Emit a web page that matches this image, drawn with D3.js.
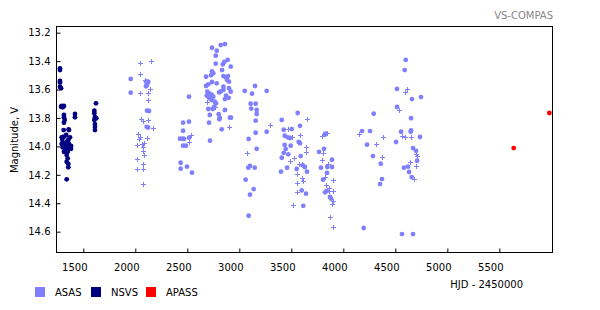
<!DOCTYPE html>
<html><head><meta charset="utf-8">
<script src="https://cdn.jsdelivr.net/npm/d3@7"></script>
<style>
body{margin:0;background:#fff;}
text{font-family:"DejaVu Sans",Verdana,sans-serif;font-size:10px;}
</style></head>
<body><svg id="c" width="600" height="310"></svg>
<script>
// ---- data ----
const xTicks = [1500,2000,2500,3000,3500,4000,4500,5000,5500];
const yTicks = [13.2,13.4,13.6,13.8,14.0,14.2,14.4,14.6];
const seriesNames = ["ASAS","NSVS","APASS"];
const seriesColors = ["#8080ff","#000080","#ff0000"];

// ASAS good-quality points [HJD-2450000, V]
const asasDots = [
[1956,13.526],[1956,13.622],[2103,13.545],[2115,13.545],[2125,13.547],[2103,13.577],[2113,13.568],
[2113,13.749],[2132,13.751],[2109,13.862],[2122,13.867],
[2516,13.650],[2459,13.833],[2516,13.826],[2459,13.890],[2430,13.946],[2456,13.946],[2468,13.948],
[2516,13.939],[2459,13.995],[2487,13.995],[2436,14.115],[2436,14.157],[2497,14.143],[2545,14.185],
[2737,13.306],[2821,13.287],[2862,13.280],[2783,13.327],[2773,13.362],[2773,13.418],[2841,13.423],
[2856,13.406],[2888,13.392],[2917,13.439],[2834,13.463],[2737,13.472],[2750,13.486],[2728,13.500],
[2680,13.510],[2847,13.505],[2869,13.514],[2891,13.505],[2882,13.533],[2901,13.545],[2783,13.556],
[2737,13.547],[2702,13.563],[2680,13.575],[2847,13.580],[2901,13.591],[2917,13.615],[2847,13.603],
[2821,13.613],[2805,13.620],[2692,13.615],[2712,13.627],[2734,13.636],[2687,13.643],[2750,13.650],
[2712,13.662],[2734,13.674],[2872,13.643],[2898,13.658],[2862,13.667],[2764,13.686],[2776,13.697],
[2702,13.737],[2744,13.737],[2760,13.721],[2862,13.744],[2802,13.774],[2812,13.798],[2808,13.809],
[2716,13.779],[2910,13.798],[2920,13.798],[2709,13.833],[2831,13.880],[2718,13.960],
[3052,13.610],[3151,13.575],[3122,13.629],[3263,13.610],[3109,13.700],[3157,13.700],[3115,13.734],
[3167,13.744],[3167,13.772],[3157,13.819],[3263,13.897],[3157,13.904],[3090,13.948],[3167,14.017],
[3086,14.150],[3103,14.138],[3148,14.150],[3061,14.234],[3138,14.300],[3103,14.340],[3090,14.488],
[3561,13.765],[3408,13.814],[3583,13.855],[3427,13.883],[3504,13.878],[3436,13.925],[3465,13.936],
[3487,13.941],[3571,13.969],[3583,13.978],[3436,13.990],[3446,14.019],[3494,13.995],[3471,14.056],
[3427,14.045],[3590,14.068],[3408,14.080],[3609,14.133],[3631,14.145],[3459,14.150],[3552,14.159],
[3401,14.178],[3651,14.178],[3600,14.309],[3641,14.333],[3615,14.418],
[3827,13.911],[3821,13.918],[3766,14.038],[3814,14.017],[3891,14.094],[3891,14.145],[3846,14.145],
[3785,14.150],[3843,14.187],[3805,14.234],[3824,14.323],[3840,14.314],[3872,14.356],[3882,14.368],
[4292,13.770],[4180,13.892],[4257,13.892],[4228,13.988],[4285,14.068],[4360,14.122],[4372,14.230],
[4353,14.265],[4196,14.574],
[4600,13.392],[4590,13.463],[4516,13.596],[4747,13.653],[4660,13.667],[4516,13.723],[4651,13.802],
[4555,13.897],[4648,13.897],[4651,13.888],[4737,13.934],[4507,13.969],[4670,14.012],[4699,14.031],
[4709,14.101],[4583,14.150],[4622,14.143],[4632,14.180],[4657,14.216],[4564,14.617],[4670,14.617]
];
// ASAS lower-quality points
const asasPlus = [
[2048,13.416],[2154,13.401],[2048,13.491],[2093,13.533],[2141,13.598],[2125,13.622],[2048,13.622],
[2125,13.674],[2059,13.810],[2071,13.819],[2125,13.817],[2173,13.873],[2029,13.915],[2045,13.932],
[2038,13.948],[2115,13.943],[2019,13.992],[2061,13.983],[2077,14.002],[2084,13.978],[2077,14.035],
[2086,14.063],[2019,14.091],[2077,14.126],[2019,14.161],[2077,14.161],[2077,14.267],
[2535,13.922],[2519,13.969],
[2692,13.690],[2769,13.721],[2904,13.862],
[3298,13.852],[3077,14.049],
[3654,13.805],[3465,13.880],[3583,13.918],[3509,13.936],[3638,14.007],[3644,14.042],[3529,14.084],
[3490,14.105],[3577,14.126],[3603,14.126],[3552,14.192],[3600,14.223],[3615,14.246],[3558,14.260],
[3558,14.323],[3519,14.415],
[3846,13.908],[3798,13.929],[3808,14.049],[3798,14.096],[3856,14.126],[3824,14.213],[3837,14.274],
[3904,14.239],[3862,14.295],[3865,14.314],[3904,14.316],[3904,14.382],[3888,14.406],[3875,14.499],
[3904,14.570],
[4154,13.915],[4385,13.934],[4317,13.985],[4375,14.077],
[4615,13.598],[4596,13.620],[4533,13.746],[4561,13.929],[4596,13.936],[4654,13.936],[4696,14.056],
[4706,14.070],[4644,14.112],[4702,14.140],[4683,14.232]
];
const nsvs = [
[1276,13.451],[1276,13.463],[1276,13.540],[1276,13.550],[1276,13.580],[1286,13.591],
[1286,13.721],[1302,13.725],[1314,13.716],[1292,13.716],[1314,13.779],[1314,13.795],[1321,13.814],
[1314,13.833],[1311,13.885],[1359,13.880],[1362,13.885],[1292,13.936],[1314,13.932],[1336,13.920],
[1356,13.955],[1372,13.936],[1292,13.983],[1314,13.978],[1336,13.990],[1362,13.983],[1382,13.997],
[1302,14.007],[1327,14.014],[1356,14.014],[1382,14.017],[1314,14.038],[1350,14.038],[1340,14.061],
[1350,14.084],[1340,14.108],[1356,14.124],[1356,14.147],[1340,14.232],[1298,13.955],[1345,13.965],
[1420,13.772],[1420,13.795],
[1622,13.697],[1606,13.749],[1606,13.767],[1612,13.795],[1625,13.802],[1606,13.814],[1612,13.843],
[1612,13.862],[1612,13.885]
];
const apass = [[5638,14.012],[5981,13.765]];

// ---- chart ----
const svg = d3.select("#c");
svg.append("rect").attr("width",600).attr("height",310).attr("fill","#fff");
const L=56, R=553, T=26, B=252;
const x = d3.scaleLinear().domain([1237.5,6016]).range([L,R]);
const y = d3.scaleLinear().domain([13.153,14.743]).range([T,B]);

// axes
const xAxis = d3.axisBottom(x).tickValues(xTicks).tickSizeInner(-4).tickSizeOuter(0).tickPadding(11.5).tickFormat(d3.format("d"));
const gx = svg.append("g").attr("transform",`translate(0,${B+0.5})`).call(xAxis);
gx.select(".domain").remove();
gx.selectAll(".tick text").attr("dx",-9).attr("fill","#000").style("font-size","10px");
gx.selectAll(".tick line").attr("stroke","#000");

const yAxis = d3.axisLeft(y).tickValues(yTicks).tickSizeInner(-4).tickSizeOuter(0).tickPadding(6).tickFormat(d3.format(".1f"));
const gy = svg.append("g").attr("transform",`translate(${L+0.5},0)`).call(yAxis);
gy.select(".domain").remove();
gy.selectAll(".tick text").attr("fill","#000").style("font-size","10px");
gy.selectAll(".tick line").attr("stroke","#000");
svg.selectAll(".tick text").attr("font-family",null);

// frame
svg.append("rect").attr("x",L+0.5).attr("y",T+0.5).attr("width",R-L-1).attr("height",B-T)
  .attr("fill","none").attr("stroke","#000").attr("stroke-width",1);

// points
const plot = svg.append("g");
plot.selectAll("path.plus").data(asasPlus).join("path").attr("class","plus")
  .attr("d",d=>{const cx=Math.round(x(d[0]))+0.5, cy=Math.round(y(d[1]))+0.5;
    return `M${cx-2.5},${cy}H${cx+2.5}M${cx},${cy-2.5}V${cy+2.5}`;})
  .attr("stroke",seriesColors[0]).attr("stroke-width",1).attr("shape-rendering","crispEdges");
plot.selectAll("circle.asas").data(asasDots).join("circle").attr("class","asas")
  .attr("cx",d=>x(d[0])).attr("cy",d=>y(d[1])).attr("r",2.4).attr("fill",seriesColors[0]);
plot.selectAll("circle.nsvs").data(nsvs).join("circle").attr("class","nsvs")
  .attr("cx",d=>x(d[0])).attr("cy",d=>y(d[1])).attr("r",2.4).attr("fill",seriesColors[1]);
plot.selectAll("circle.apass").data(apass).join("circle").attr("class","apass")
  .attr("cx",d=>x(d[0])).attr("cy",d=>y(d[1])).attr("r",2.4).attr("fill",seriesColors[2]);

// labels
svg.append("text").attr("x",553).attr("y",19).attr("text-anchor","end").attr("fill","#888").text("VS-COMPAS");
svg.append("text").attr("transform","translate(18,140) rotate(-90)").attr("text-anchor","middle").attr("fill","#000").text("Magnitude, V");
svg.append("text").attr("x",523).attr("y",288).attr("text-anchor","end").attr("fill","#000").text("HJD - 2450000");

// legend
const legX = [35,91,146];
const lg = svg.append("g").selectAll("g").data(seriesNames).join("g")
  .attr("transform",(d,i)=>`translate(${legX[i]},287)`);
lg.append("rect").attr("width",10).attr("height",10).attr("fill",(d,i)=>seriesColors[i]);
lg.append("text").attr("x",20).attr("y",9).attr("fill","#000").text(d=>d);
</script></body></html>
